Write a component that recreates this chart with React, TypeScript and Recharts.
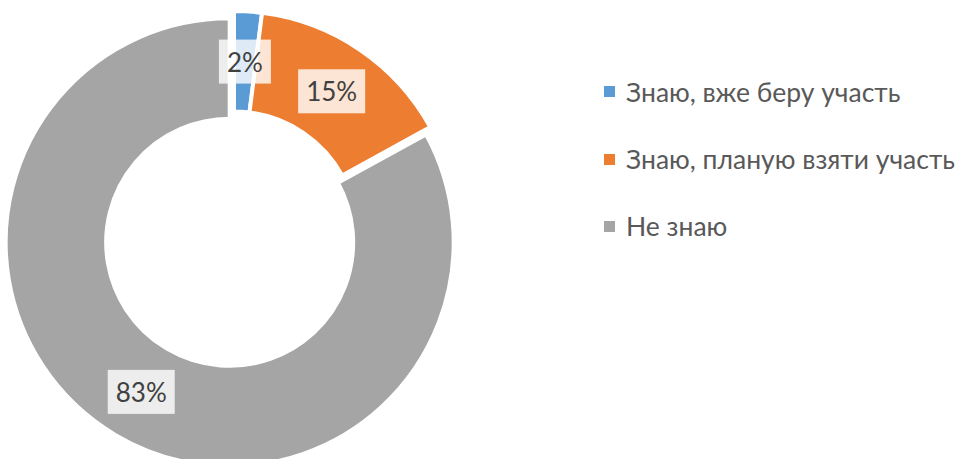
import { Cell, Legend, Pie, PieChart } from "recharts";

const categories = ["Знаю, вже беру участь", "Знаю, планую взяти участь", "Не знаю"];
const values = [2, 15, 83];
const colors = ["#5B9BD5", "#ED7D31", "#A5A5A5"];
// how far each slice is pulled out of the ring, px
const explode = [0, 0, 8.5];

const data = categories.map((name, i) => ({ name, value: values[i] }));

const CX = 234;
const CY = 235;
const OUTER = 224;
const INNER = 123.5;
const FONT = "Lato, 'Open Sans', sans-serif";

const total = values.reduce((a, b) => a + b, 0);

// offset of a slice along its middle angle (pie runs clockwise from 12 o'clock)
const sliceOffset = (i: number) => {
    const before = values.slice(0, i).reduce((a, b) => a + b, 0);
    const mid = 90 - ((before + values[i] / 2) / total) * 360;
    const rad = (mid * Math.PI) / 180;
    return { dx: explode[i] * Math.cos(rad), dy: -explode[i] * Math.sin(rad) };
};

const makeLabel = (target: number) => (props: any) => {
    const { cx, cy, midAngle, innerRadius, outerRadius, percent, index } = props;
    if (index !== target) return null;
    const rad = (midAngle * Math.PI) / 180;
    const r = (innerRadius + outerRadius) / 2;
    const x = cx + r * Math.cos(rad);
    const y = cy - r * Math.sin(rad);
    const text = `${Math.round(percent * 100)}%`;
    const w = 18 + 15 * (text.length - 1) + 19;
    const h = 44;
    return (
        <g>
            <rect x={x - w / 2} y={y - h / 2} width={w} height={h} fill="#fff" fillOpacity={0.8} />
            <text
                x={x}
                y={y}
                textAnchor="middle"
                dominantBaseline="central"
                fill="#404040"
                fontSize={26}
                fontFamily={FONT}
            >
                {text}
            </text>
        </g>
    );
};

const LegendContent = () => (
    <div style={{ fontFamily: FONT, fontSize: 26.5, color: "#595959" }}>
        {categories.map((name, i) => (
            <div key={name} style={{ display: "flex", alignItems: "center", height: 67.4 }}>
                <span
                    style={{
                        display: "inline-block",
                        width: 11,
                        height: 11,
                        background: colors[i],
                        marginRight: 11,
                    }}
                />
                <span>{name}</span>
            </div>
        ))}
    </div>
);

const App = () => (
    <div style={{ position: "absolute", left: 0, top: 0, background: "#fff" }}>
        <PieChart width={961} height={459} margin={{ top: 0, right: 0, bottom: 0, left: 0 }}>
            {values.map((_, target) => {
                const { dx, dy } = sliceOffset(target);
                return (
                    <Pie
                        key={target}
                        data={data}
                        dataKey="value"
                        nameKey="name"
                        cx={CX + dx}
                        cy={CY + dy}
                        innerRadius={INNER}
                        outerRadius={OUTER}
                        startAngle={90}
                        endAngle={-270}
                        labelLine={false}
                        label={makeLabel(target)}
                        legendType={target === 0 ? "square" : "none"}
                        isAnimationActive={false}
                    >
                        {data.map((d, i) => (
                            <Cell
                                key={d.name}
                                fill={i === target ? colors[i] : "transparent"}
                                stroke={i === target ? "#fff" : "none"}
                                strokeWidth={4}
                            />
                        ))}
                    </Pie>
                );
            })}
            <Legend
                layout="vertical"
                content={<LegendContent />}
                wrapperStyle={{ left: 604, top: 58, width: 357 }}
            />
        </PieChart>
    </div>
);

export default App;
